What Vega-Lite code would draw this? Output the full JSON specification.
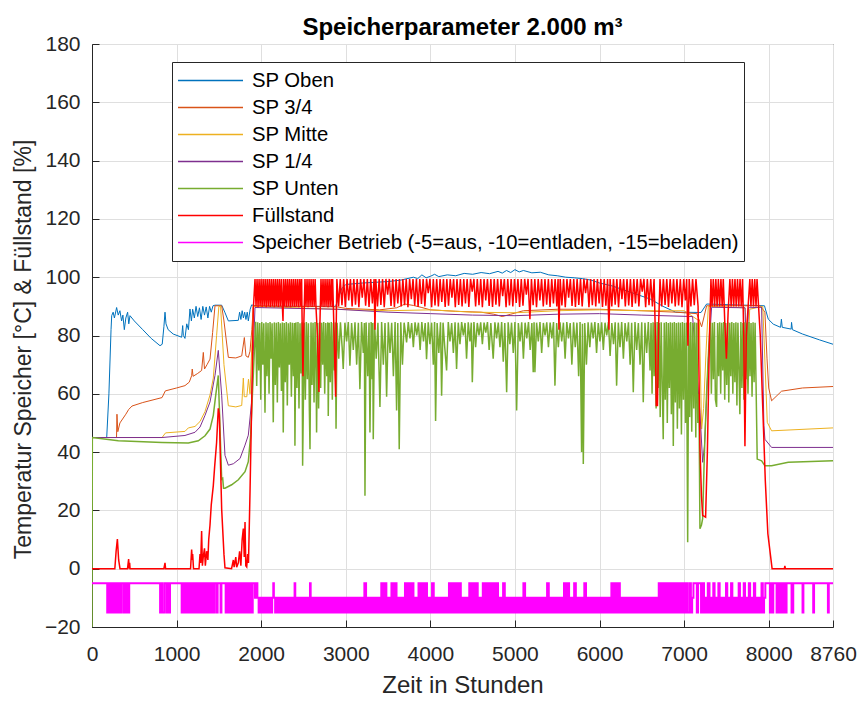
{
"$schema": "https://vega.github.io/schema/vega-lite/v6.json",
"width": 741, "height": 583,
"autosize": {"type": "none"},
"padding": {"left": 92, "top": 44, "right": 25, "bottom": 75},
"background": "white",
"title": {"text": "Speicherparameter 2.000 m³", "fontSize": 24, "fontWeight": "bold", "font": "Liberation Sans", "color": "#000000", "anchor": "middle", "baseline": "bottom", "offset": 4, "dy": 35},
"datasets": {
"o": [{"t":0,"v":45},{"t":174,"v":45},{"t":200,"v":60},{"t":225,"v":82},{"t":233,"v":86.8},{"t":250,"v":88},{"t":265,"v":86},{"t":291,"v":89.6},{"t":310,"v":87},{"t":330,"v":88.5},{"t":350,"v":85},{"t":365,"v":87},{"t":382,"v":82},{"t":400,"v":86},{"t":421,"v":88},{"t":435,"v":84},{"t":449,"v":86.8},{"t":500,"v":85},{"t":600,"v":82},{"t":700,"v":79},{"t":804,"v":76.5},{"t":830,"v":77},{"t":850,"v":83},{"t":863,"v":88},{"t":875,"v":84},{"t":900,"v":82},{"t":960,"v":80.5},{"t":1060,"v":79.4},{"t":1072,"v":83.4},{"t":1080,"v":80},{"t":1099,"v":79},{"t":1120,"v":84},{"t":1140,"v":82},{"t":1158,"v":89.1},{"t":1175,"v":85},{"t":1190,"v":89},{"t":1210,"v":86},{"t":1230,"v":90},{"t":1250,"v":86.5},{"t":1270,"v":89.5},{"t":1290,"v":85.5},{"t":1310,"v":90},{"t":1330,"v":87},{"t":1350,"v":89.8},{"t":1370,"v":86},{"t":1390,"v":90},{"t":1410,"v":88},{"t":1430,"v":90.2},{"t":1454,"v":90.4},{"t":1533,"v":90.4},{"t":1570,"v":88},{"t":1612,"v":85},{"t":1730,"v":85.2},{"t":1745,"v":88},{"t":1760,"v":85.5},{"t":1775,"v":88.5},{"t":1790,"v":86},{"t":1805,"v":88},{"t":1820,"v":85.5},{"t":1835,"v":88},{"t":1848,"v":85},{"t":1870,"v":89},{"t":1887,"v":90.5},{"t":1950,"v":90},{"t":2880,"v":90},{"t":2950,"v":96},{"t":3000,"v":97.5},{"t":3200,"v":98},{"t":3500,"v":98.5},{"t":3650,"v":99},{"t":3800,"v":100},{"t":3850,"v":99.5},{"t":3900,"v":100.8},{"t":3950,"v":99.8},{"t":4000,"v":100.3},{"t":4050,"v":101},{"t":4100,"v":100.2},{"t":4200,"v":100.8},{"t":4300,"v":100.5},{"t":4400,"v":101.3},{"t":4500,"v":101},{"t":4600,"v":101.6},{"t":4700,"v":101.2},{"t":4800,"v":102},{"t":4850,"v":101.4},{"t":4900,"v":102.3},{"t":4950,"v":101.6},{"t":5000,"v":102.6},{"t":5050,"v":101.8},{"t":5100,"v":102.3},{"t":5200,"v":101.5},{"t":5300,"v":101.7},{"t":5400,"v":100.8},{"t":5500,"v":100.5},{"t":5600,"v":100},{"t":5700,"v":99.8},{"t":5800,"v":99.5},{"t":5900,"v":99},{"t":6000,"v":98},{"t":6150,"v":97},{"t":6300,"v":95.5},{"t":6450,"v":94},{"t":6600,"v":92.5},{"t":6750,"v":90},{"t":6900,"v":88},{"t":7200,"v":87.9},{"t":7266,"v":90.8},{"t":7950,"v":90.2},{"t":7995,"v":85.6},{"t":8054,"v":83.9},{"t":8140,"v":82.8},{"t":8150,"v":85.6},{"t":8160,"v":82.8},{"t":8265,"v":82.2},{"t":8270,"v":84.5},{"t":8280,"v":82},{"t":8400,"v":80.5},{"t":8600,"v":78.5},{"t":8760,"v":77}],
"a": [{"t":0,"v":45},{"t":290,"v":45},{"t":295,"v":53},{"t":305,"v":47},{"t":330,"v":50},{"t":400,"v":53},{"t":433,"v":54.6},{"t":473,"v":55.8},{"t":600,"v":57},{"t":828,"v":58.7},{"t":867,"v":61},{"t":1000,"v":62},{"t":1099,"v":62.8},{"t":1150,"v":64},{"t":1178,"v":66.2},{"t":1185,"v":68.5},{"t":1195,"v":66},{"t":1250,"v":67},{"t":1296,"v":68},{"t":1316,"v":74.2},{"t":1330,"v":68.5},{"t":1360,"v":70},{"t":1395,"v":71.9},{"t":1426,"v":81},{"t":1454,"v":90.2},{"t":1533,"v":90.2},{"t":1560,"v":85},{"t":1612,"v":72.5},{"t":1700,"v":72.3},{"t":1770,"v":73},{"t":1801,"v":79.3},{"t":1820,"v":73},{"t":1848,"v":72.5},{"t":1868,"v":74.6},{"t":1890,"v":82},{"t":1907,"v":90.2},{"t":2900,"v":89.8},{"t":3000,"v":89.3},{"t":3400,"v":88.8},{"t":3600,"v":89.5},{"t":3700,"v":90.8},{"t":3800,"v":90.3},{"t":3900,"v":89.6},{"t":4000,"v":88.8},{"t":4300,"v":88.3},{"t":4600,"v":88},{"t":4750,"v":87.3},{"t":4850,"v":86.5},{"t":4950,"v":87.3},{"t":5100,"v":88.5},{"t":5500,"v":89},{"t":6000,"v":89},{"t":6500,"v":88.5},{"t":6900,"v":88},{"t":7150,"v":87.5},{"t":7207,"v":83},{"t":7240,"v":87},{"t":7266,"v":90.2},{"t":7900,"v":90.2},{"t":7955,"v":88},{"t":7980,"v":72},{"t":8000,"v":62},{"t":8034,"v":57.6},{"t":8152,"v":60.9},{"t":8400,"v":62},{"t":8760,"v":62.5}],
"m": [{"t":0,"v":45},{"t":828,"v":45},{"t":870,"v":46.6},{"t":1099,"v":47.1},{"t":1139,"v":48.3},{"t":1218,"v":48.8},{"t":1277,"v":50.5},{"t":1336,"v":53.9},{"t":1395,"v":59.6},{"t":1434,"v":65.4},{"t":1473,"v":80},{"t":1500,"v":90},{"t":1520,"v":90},{"t":1560,"v":70},{"t":1612,"v":55.9},{"t":1700,"v":55.5},{"t":1770,"v":56},{"t":1789,"v":65.4},{"t":1800,"v":59},{"t":1830,"v":59},{"t":1850,"v":65},{"t":1868,"v":60},{"t":1907,"v":90},{"t":2900,"v":89},{"t":3500,"v":88.5},{"t":4000,"v":88.8},{"t":4500,"v":88},{"t":5000,"v":87.8},{"t":5500,"v":88.5},{"t":6000,"v":88.8},{"t":6500,"v":88.5},{"t":7000,"v":88.5},{"t":7180,"v":85},{"t":7207,"v":47.9},{"t":7230,"v":55},{"t":7260,"v":75},{"t":7286,"v":90},{"t":7720,"v":89.5},{"t":7740,"v":80},{"t":7758,"v":75},{"t":7775,"v":89},{"t":7930,"v":90},{"t":7970,"v":60},{"t":7983,"v":50.2},{"t":8034,"v":47.3},{"t":8760,"v":48.3}],
"q": [{"t":0,"v":45},{"t":828,"v":45},{"t":1099,"v":45.7},{"t":1218,"v":46.8},{"t":1277,"v":48.6},{"t":1336,"v":52.6},{"t":1395,"v":57.2},{"t":1454,"v":66.3},{"t":1493,"v":74.9},{"t":1533,"v":59.5},{"t":1572,"v":38.9},{"t":1612,"v":35.5},{"t":1671,"v":36},{"t":1750,"v":37.8},{"t":1809,"v":42.4},{"t":1848,"v":45.8},{"t":1887,"v":57.2},{"t":1907,"v":74.4},{"t":1927,"v":89.6},{"t":2900,"v":89},{"t":3500,"v":88},{"t":4000,"v":87.5},{"t":4500,"v":87},{"t":5000,"v":86.8},{"t":5500,"v":87.3},{"t":6000,"v":87.5},{"t":6500,"v":87},{"t":7100,"v":86.5},{"t":7187,"v":53.6},{"t":7219,"v":36.5},{"t":7240,"v":42},{"t":7286,"v":72},{"t":7325,"v":89.7},{"t":7720,"v":89.5},{"t":7738,"v":69.6},{"t":7760,"v":89.5},{"t":7916,"v":89.7},{"t":7943,"v":49.1},{"t":7955,"v":44.4},{"t":8034,"v":41.6},{"t":8760,"v":41.6}],
"u": [{"t":0,"v":-20},{"t":4,"v":45},{"t":311,"v":43.9},{"t":828,"v":43.3},{"t":1139,"v":43.1},{"t":1257,"v":43.9},{"t":1336,"v":45.6},{"t":1395,"v":47.9},{"t":1434,"v":52.6},{"t":1462,"v":59.4},{"t":1493,"v":66.3},{"t":1533,"v":30.7},{"t":1545,"v":31},{"t":1555,"v":27.6},{"t":1572,"v":27.6},{"t":1651,"v":28.8},{"t":1730,"v":30.5},{"t":1809,"v":33.3},{"t":1848,"v":36.7},{"t":1876,"v":45.9},{"t":1896,"v":59.5},{"t":1919,"v":74.4},
{"t":1935,"v":84.7},{"t":1947,"v":62.7},{"t":1959,"v":84.5},{"t":1971,"v":68},{"t":1983,"v":84.3},{"t":1995,"v":58},{"t":2007,"v":84.6},{"t":2019,"v":70},{"t":2031,"v":84.2},{"t":2045,"v":53.5},{"t":2057,"v":84.5},{"t":2069,"v":66},{"t":2081,"v":84.3},{"t":2093,"v":60},{"t":2105,"v":84.6},{"t":2117,"v":72},{"t":2129,"v":84.2},{"t":2143,"v":50.2},{"t":2155,"v":84.5},{"t":2167,"v":63},{"t":2179,"v":84.4},{"t":2191,"v":57},{"t":2203,"v":84.6},{"t":2215,"v":69},{"t":2227,"v":84.2},{"t":2239,"v":61},{"t":2251,"v":84.5},{"t":2261,"v":46.7},{"t":2273,"v":84.3},{"t":2285,"v":64},{"t":2297,"v":84.6},{"t":2309,"v":56},{"t":2321,"v":84.2},{"t":2333,"v":70},{"t":2345,"v":84.5},{"t":2357,"v":59},{"t":2369,"v":84.4},{"t":2381,"v":66},{"t":2393,"v":84.3},{"t":2399,"v":42.2},{"t":2411,"v":84.5},{"t":2423,"v":62},{"t":2435,"v":84.6},{"t":2447,"v":55},{"t":2459,"v":84.2},{"t":2471,"v":67},{"t":2483,"v":84.5},{"t":2490,"v":35.3},{"t":2500,"v":60},{"t":2510,"v":84.4},{"t":2522,"v":58},{"t":2534,"v":84.6},{"t":2546,"v":65},{"t":2558,"v":84.2},{"t":2570,"v":54},{"t":2577,"v":41},{"t":2589,"v":84.5},{"t":2601,"v":63},{"t":2613,"v":84.4},{"t":2625,"v":57},{"t":2637,"v":84.6},{"t":2649,"v":68},{"t":2655,"v":46.7},{"t":2667,"v":84.3},{"t":2679,"v":55},{"t":2691,"v":84.5},{"t":2703,"v":62},{"t":2715,"v":84.4},{"t":2727,"v":70},{"t":2739,"v":84.6},{"t":2751,"v":60},{"t":2763,"v":84.3},{"t":2775,"v":66},{"t":2787,"v":84.5},{"t":2793,"v":52.4},{"t":2805,"v":84.4},{"t":2817,"v":64},{"t":2829,"v":84.6},{"t":2841,"v":58},{"t":2853,"v":84.3},{"t":2865,"v":68},{"t":2877,"v":84.5},{"t":2885,"v":48},{"t":2897,"v":84.4},
{"t":2917,"v":72},{"t":2937,"v":84.5},{"t":2957,"v":76},{"t":2970,"v":68.5},{"t":2990,"v":84.4},{"t":3010,"v":78},{"t":3030,"v":84.6},{"t":3049,"v":69.6},{"t":3069,"v":84.3},{"t":3089,"v":75},{"t":3109,"v":84.5},{"t":3129,"v":70},{"t":3149,"v":84.4},{"t":3167,"v":61.6},{"t":3187,"v":84.6},{"t":3207,"v":74},{"t":3220,"v":84.3},{"t":3227,"v":25},{"t":3240,"v":84.5},{"t":3260,"v":66},{"t":3275,"v":84.4},{"t":3286,"v":46.7},{"t":3300,"v":84.6},{"t":3312,"v":65},{"t":3318,"v":84.3},{"t":3325,"v":44.4},{"t":3340,"v":84.5},{"t":3360,"v":72},{"t":3380,"v":84.4},{"t":3404,"v":55.5},{"t":3424,"v":84.6},{"t":3444,"v":70},{"t":3464,"v":84.3},{"t":3483,"v":59},{"t":3503,"v":84.5},{"t":3523,"v":74},{"t":3543,"v":84.4},{"t":3563,"v":66},{"t":3583,"v":84.6},{"t":3601,"v":54.3},{"t":3615,"v":84.3},{"t":3632,"v":41},{"t":3650,"v":84.5},{"t":3670,"v":70},{"t":3690,"v":84.4},{"t":3719,"v":77.6},{"t":3739,"v":84.6},{"t":3759,"v":79},{"t":3779,"v":84.3},{"t":3799,"v":76},{"t":3819,"v":84.5},{"t":3839,"v":80},{"t":3859,"v":84.4},{"t":3879,"v":75},{"t":3899,"v":84.6},{"t":3919,"v":78},{"t":3939,"v":84.3},{"t":3955,"v":71.9},{"t":3975,"v":84.5},{"t":3995,"v":77},{"t":4015,"v":84.4},{"t":4035,"v":70},{"t":4050,"v":84.6},{"t":4062,"v":50.7},{"t":4080,"v":84.3},{"t":4100,"v":74},{"t":4120,"v":84.5},{"t":4133,"v":59.3},{"t":4150,"v":84.4},{"t":4170,"v":76},{"t":4192,"v":68},{"t":4212,"v":84.6},{"t":4232,"v":78},{"t":4252,"v":84.3},{"t":4272,"v":74},{"t":4292,"v":84.5},{"t":4310,"v":68.5},{"t":4330,"v":84.4},{"t":4350,"v":77},{"t":4370,"v":84.6},{"t":4390,"v":80},{"t":4410,"v":84.3},{"t":4428,"v":72},{"t":4448,"v":84.5},{"t":4468,"v":78},{"t":4484,"v":84.4},{"t":4496,"v":64},{"t":4515,"v":84.6},{"t":4535,"v":76},{"t":4555,"v":84.3},{"t":4575,"v":80},{"t":4595,"v":84.5},{"t":4615,"v":77},{"t":4635,"v":84.4},{"t":4655,"v":81},{"t":4675,"v":84.6},{"t":4695,"v":75},{"t":4715,"v":84.3},{"t":4743,"v":72},{"t":4763,"v":84.5},{"t":4783,"v":79},{"t":4803,"v":84.4},{"t":4823,"v":76},{"t":4843,"v":84.6},{"t":4862,"v":71},{"t":4880,"v":84.3},{"t":4902,"v":60.5},{"t":4920,"v":84.5},{"t":4940,"v":77},{"t":4960,"v":84.4},{"t":4980,"v":74},{"t":5000,"v":84.6},{"t":5020,"v":54.3},{"t":5040,"v":84.3},{"t":5060,"v":78},{"t":5080,"v":84.5},{"t":5100,"v":72},{"t":5120,"v":84.4},{"t":5140,"v":79},{"t":5160,"v":84.6},{"t":5180,"v":75},{"t":5200,"v":84.3},{"t":5216,"v":67.4},{"t":5226,"v":84.5},{"t":5236,"v":67.4},{"t":5256,"v":84.4},{"t":5276,"v":78},{"t":5296,"v":84.6},{"t":5316,"v":74},{"t":5336,"v":84.3},{"t":5356,"v":80},{"t":5376,"v":84.5},{"t":5396,"v":76},{"t":5416,"v":84.4},{"t":5436,"v":79},{"t":5456,"v":84.6},{"t":5473,"v":62.8},{"t":5493,"v":84.3},{"t":5513,"v":76},{"t":5533,"v":84.5},{"t":5553,"v":78},{"t":5573,"v":84.4},{"t":5593,"v":72},{"t":5613,"v":84.6},{"t":5633,"v":79},{"t":5653,"v":84.3},{"t":5673,"v":70},{"t":5693,"v":84.5},{"t":5713,"v":76},{"t":5733,"v":84.4},{"t":5753,"v":66},{"t":5770,"v":84.6},{"t":5788,"v":40},{"t":5798,"v":84},{"t":5808,"v":35.9},{"t":5825,"v":84.3},{"t":5845,"v":70},{"t":5865,"v":84.5},{"t":5885,"v":76},{"t":5905,"v":84.4},{"t":5925,"v":79},{"t":5945,"v":84.6},{"t":5965,"v":74},{"t":5985,"v":84.3},{"t":6005,"v":78},{"t":6025,"v":84.5},{"t":6045,"v":75},{"t":6065,"v":84.4},{"t":6085,"v":80},{"t":6105,"v":84.6},{"t":6125,"v":73},{"t":6145,"v":84.3},{"t":6165,"v":77},{"t":6185,"v":84.5},{"t":6202,"v":62.8},{"t":6222,"v":84.4},{"t":6242,"v":76},{"t":6262,"v":84.6},{"t":6282,"v":72},{"t":6302,"v":84.3},{"t":6322,"v":78},{"t":6342,"v":84.5},{"t":6362,"v":70},{"t":6380,"v":84.4},{"t":6399,"v":60.5},{"t":6419,"v":84.6},{"t":6439,"v":75},{"t":6459,"v":84.3},{"t":6479,"v":70},{"t":6499,"v":84.5},{"t":6517,"v":57.1},{"t":6537,"v":84.4},{"t":6557,"v":74},{"t":6577,"v":84.6},{"t":6597,"v":68},
{"t":6609,"v":84.3},{"t":6621,"v":60},{"t":6633,"v":84.5},{"t":6645,"v":66},{"t":6657,"v":84.4},{"t":6669,"v":55},{"t":6681,"v":84.6},{"t":6693,"v":62},{"t":6705,"v":84.3},{"t":6717,"v":52},{"t":6729,"v":84.5},{"t":6741,"v":64},{"t":6753,"v":44.4},{"t":6765,"v":84.4},{"t":6777,"v":58},{"t":6789,"v":84.6},{"t":6801,"v":50},{"t":6813,"v":84.3},{"t":6825,"v":62},{"t":6837,"v":84.5},{"t":6849,"v":53},{"t":6861,"v":84.4},{"t":6872,"v":42.1},{"t":6884,"v":84.6},{"t":6896,"v":57},{"t":6908,"v":84.3},{"t":6920,"v":48},{"t":6932,"v":84.5},{"t":6944,"v":55},{"t":6956,"v":84.4},{"t":6968,"v":46},{"t":6980,"v":84.6},{"t":6992,"v":58},{"t":7004,"v":84.3},{"t":7016,"v":50},{"t":7028,"v":84.5},{"t":7042,"v":9.1},{"t":7054,"v":84.4},{"t":7066,"v":52},{"t":7078,"v":84.6},{"t":7090,"v":47},{"t":7102,"v":84.3},{"t":7114,"v":55},{"t":7126,"v":84.5},{"t":7138,"v":45},{"t":7150,"v":84.4},{"t":7162,"v":50},{"t":7175,"v":60},{"t":7187,"v":13.7},{"t":7205,"v":15},{"t":7219,"v":17.2},{"t":7240,"v":40},{"t":7266,"v":60.5},{"t":7290,"v":75},{"t":7310,"v":84.5},
{"t":7322,"v":60},{"t":7334,"v":84.4},{"t":7346,"v":65},{"t":7358,"v":84.6},{"t":7370,"v":58},{"t":7384,"v":55.5},{"t":7396,"v":84.3},{"t":7408,"v":66},{"t":7420,"v":84.5},{"t":7432,"v":60},{"t":7444,"v":84.4},{"t":7456,"v":68},{"t":7468,"v":84.6},{"t":7480,"v":58},{"t":7492,"v":84.3},{"t":7504,"v":63},{"t":7516,"v":84.5},{"t":7528,"v":57},{"t":7540,"v":84.4},{"t":7552,"v":66},{"t":7564,"v":84.6},{"t":7576,"v":60},{"t":7588,"v":84.3},{"t":7600,"v":64},{"t":7612,"v":84.5},{"t":7624,"v":56},{"t":7636,"v":84.4},{"t":7648,"v":68},{"t":7659,"v":53},{"t":7671,"v":84.6},{"t":7683,"v":62},{"t":7695,"v":84.3},{"t":7707,"v":58},{"t":7719,"v":84.5},{"t":7731,"v":65},{"t":7743,"v":84.4},{"t":7755,"v":60},{"t":7767,"v":84.6},{"t":7779,"v":66},{"t":7791,"v":84.3},{"t":7803,"v":59},{"t":7815,"v":84.5},{"t":7827,"v":64},{"t":7839,"v":84.4},{"t":7851,"v":62},{"t":7864,"v":37.6},{"t":7916,"v":37},{"t":7955,"v":35.3},{"t":8034,"v":35.3},{"t":8231,"v":36.5},{"t":8500,"v":36.8},{"t":8760,"v":37}],
"f": [{"t":0,"v":0},{"t":270,"v":0},{"t":285,"v":6},{"t":300,"v":10.2},{"t":315,"v":3},{"t":331,"v":0},{"t":420,"v":0},{"t":433,"v":3.3},{"t":440,"v":0},{"t":445,"v":2},{"t":450,"v":0},{"t":850,"v":0},{"t":863,"v":2},{"t":870,"v":0},{"t":1165,"v":0},{"t":1178,"v":6.6},{"t":1185,"v":3},{"t":1190,"v":5},{"t":1200,"v":0},{"t":1265,"v":0},{"t":1277,"v":5},{"t":1285,"v":2},{"t":1296,"v":12.9},{"t":1305,"v":1},{"t":1315,"v":4},{"t":1330,"v":7},{"t":1340,"v":1},{"t":1355,"v":6},{"t":1370,"v":3},{"t":1380,"v":10},{"t":1395,"v":15},{"t":1410,"v":22},{"t":1434,"v":28.5},{"t":1450,"v":35},{"t":1473,"v":43.3},{"t":1493,"v":55},{"t":1505,"v":53},{"t":1520,"v":35},{"t":1533,"v":20.4},{"t":1560,"v":5},{"t":1572,"v":0.3},{"t":1650,"v":0},{"t":1671,"v":3},{"t":1680,"v":0.5},{"t":1700,"v":4},{"t":1710,"v":0.5},{"t":1730,"v":2},{"t":1745,"v":6},{"t":1760,"v":1},{"t":1775,"v":10},{"t":1789,"v":13.8},{"t":1800,"v":4},{"t":1809,"v":16},{"t":1818,"v":1},{"t":1829,"v":0.6},{"t":1840,"v":5},{"t":1850,"v":2},{"t":1868,"v":26.3},{"t":1890,"v":60},{"t":1907,"v":89},{"t":1927,"v":99.4},
{"t":1939,"v":90},{"t":1951,"v":99.4},{"t":1963,"v":89.7},{"t":1975,"v":99.4},{"t":1987,"v":90},{"t":1999,"v":99.4},{"t":2011,"v":89.8},{"t":2023,"v":99.4},{"t":2035,"v":90},{"t":2047,"v":99.4},{"t":2059,"v":89.7},{"t":2071,"v":99.4},{"t":2083,"v":90},{"t":2095,"v":99.4},{"t":2107,"v":89.8},{"t":2119,"v":99.4},{"t":2131,"v":90},{"t":2143,"v":99.4},{"t":2155,"v":89.7},{"t":2167,"v":99.4},{"t":2179,"v":90},{"t":2191,"v":99.4},{"t":2203,"v":89.8},{"t":2215,"v":99.4},{"t":2227,"v":90},{"t":2239,"v":99.4},{"t":2251,"v":89.7},{"t":2258,"v":85},{"t":2265,"v":99.4},{"t":2277,"v":90},{"t":2289,"v":99.4},{"t":2301,"v":89.8},{"t":2313,"v":99.4},{"t":2325,"v":90},{"t":2337,"v":99.4},{"t":2349,"v":89.7},{"t":2361,"v":99.4},{"t":2373,"v":90},{"t":2385,"v":99.4},{"t":2397,"v":89.8},{"t":2409,"v":99.4},{"t":2421,"v":90},{"t":2433,"v":99.4},{"t":2445,"v":89.7},{"t":2457,"v":99.4},{"t":2469,"v":90},{"t":2478,"v":99.4},{"t":2486,"v":80},{"t":2494,"v":66},{"t":2505,"v":85},{"t":2518,"v":99.4},{"t":2530,"v":90},{"t":2542,"v":99.4},{"t":2554,"v":89.7},{"t":2566,"v":99.4},{"t":2578,"v":90},{"t":2590,"v":99.4},{"t":2602,"v":89.8},{"t":2614,"v":99.4},{"t":2626,"v":90},{"t":2638,"v":99.4},{"t":2648,"v":89.7},{"t":2665,"v":80},{"t":2683,"v":60.6},{"t":2695,"v":85},{"t":2707,"v":99.4},{"t":2719,"v":90},{"t":2731,"v":99.4},{"t":2743,"v":89.8},{"t":2755,"v":99.4},{"t":2767,"v":90},{"t":2779,"v":99.4},{"t":2791,"v":89.7},{"t":2803,"v":99.4},{"t":2815,"v":90},{"t":2827,"v":99.4},{"t":2839,"v":89.8},{"t":2845,"v":99.4},{"t":2862,"v":80},{"t":2880,"v":59},{"t":2888,"v":85},{"t":2895,"v":99.4},
{"t":2915,"v":90},{"t":2935,"v":99.4},{"t":2955,"v":90.4},{"t":2975,"v":99.4},{"t":2995,"v":89.8},{"t":3015,"v":99.4},{"t":3035,"v":92},{"t":3055,"v":99.4},{"t":3075,"v":90},{"t":3095,"v":99.4},{"t":3115,"v":90.6},{"t":3135,"v":99.4},{"t":3155,"v":89.7},{"t":3175,"v":99.4},{"t":3195,"v":93},{"t":3215,"v":99.4},{"t":3235,"v":90.2},{"t":3255,"v":99.4},{"t":3275,"v":89.8},{"t":3295,"v":99.4},{"t":3315,"v":91},{"t":3335,"v":99.4},{"t":3345,"v":82},{"t":3355,"v":99.4},{"t":3375,"v":90},{"t":3395,"v":99.4},{"t":3415,"v":90.5},{"t":3435,"v":99.4},{"t":3455,"v":89.7},{"t":3475,"v":99.4},{"t":3495,"v":94},{"t":3515,"v":99.4},{"t":3535,"v":90.1},{"t":3555,"v":99.4},{"t":3575,"v":89.8},{"t":3595,"v":99.4},{"t":3615,"v":91},{"t":3635,"v":99.4},{"t":3655,"v":90},{"t":3675,"v":99.4},{"t":3695,"v":90.4},{"t":3715,"v":99.4},{"t":3735,"v":89.7},{"t":3755,"v":99.4},{"t":3775,"v":92.5},{"t":3795,"v":99.4},{"t":3815,"v":90.2},{"t":3835,"v":99.4},{"t":3855,"v":89.8},{"t":3875,"v":99.4},{"t":3895,"v":90.8},{"t":3915,"v":99.4},{"t":3935,"v":90},{"t":3955,"v":99.4},{"t":3975,"v":94.5},{"t":3995,"v":99.4},{"t":4015,"v":89.7},{"t":4035,"v":99.4},{"t":4055,"v":90.3},{"t":4075,"v":99.4},{"t":4095,"v":90},{"t":4115,"v":99.4},{"t":4135,"v":91.5},{"t":4155,"v":99.4},{"t":4175,"v":89.8},{"t":4195,"v":99.4},{"t":4215,"v":90.2},{"t":4235,"v":99.4},{"t":4255,"v":93},{"t":4275,"v":99.4},{"t":4295,"v":89.7},{"t":4315,"v":99.4},{"t":4335,"v":90.5},{"t":4355,"v":99.4},{"t":4375,"v":90},{"t":4395,"v":99.4},{"t":4415,"v":91},{"t":4435,"v":99.4},{"t":4455,"v":89.8},{"t":4475,"v":99.4},{"t":4495,"v":95},{"t":4515,"v":99.4},{"t":4535,"v":90},{"t":4555,"v":99.4},{"t":4575,"v":90.4},{"t":4595,"v":99.4},{"t":4615,"v":89.7},{"t":4635,"v":99.4},{"t":4655,"v":92},{"t":4675,"v":99.4},{"t":4695,"v":90.1},{"t":4715,"v":99.4},{"t":4735,"v":89.8},{"t":4755,"v":99.4},{"t":4775,"v":90.6},{"t":4795,"v":99.4},{"t":4815,"v":90},{"t":4835,"v":99.4},{"t":4855,"v":93.5},{"t":4875,"v":99.4},{"t":4895,"v":89.7},{"t":4915,"v":99.4},{"t":4935,"v":90.3},{"t":4955,"v":99.4},{"t":4975,"v":90},{"t":4995,"v":99.4},{"t":5015,"v":91.2},{"t":5035,"v":99.4},{"t":5055,"v":89.8},{"t":5075,"v":99.4},{"t":5095,"v":90.2},{"t":5115,"v":99.4},{"t":5135,"v":94},{"t":5155,"v":99.4},{"t":5177,"v":85.6},{"t":5195,"v":99.4},{"t":5215,"v":90.4},{"t":5235,"v":99.4},{"t":5255,"v":89.7},{"t":5275,"v":99.4},{"t":5295,"v":92},{"t":5315,"v":99.4},{"t":5335,"v":90},{"t":5355,"v":99.4},{"t":5375,"v":90.6},{"t":5395,"v":99.4},{"t":5415,"v":89.8},{"t":5435,"v":99.4},{"t":5455,"v":91},{"t":5475,"v":99.4},{"t":5495,"v":90},{"t":5510,"v":99.4},{"t":5520,"v":82},{"t":5535,"v":99.4},{"t":5555,"v":90.3},{"t":5575,"v":99.4},{"t":5595,"v":89.7},{"t":5615,"v":99.4},{"t":5635,"v":93},{"t":5655,"v":99.4},{"t":5675,"v":90.1},{"t":5695,"v":99.4},{"t":5715,"v":89.8},{"t":5735,"v":99.4},{"t":5755,"v":90.5},{"t":5775,"v":99.4},{"t":5795,"v":90},{"t":5815,"v":99.4},{"t":5835,"v":94.5},{"t":5855,"v":99.4},{"t":5875,"v":89.7},{"t":5895,"v":99.4},{"t":5915,"v":90.4},{"t":5935,"v":99.4},{"t":5955,"v":90},{"t":5975,"v":99.4},{"t":5995,"v":91},{"t":6015,"v":99.4},{"t":6035,"v":89.8},{"t":6055,"v":99.4},{"t":6075,"v":90.2},{"t":6095,"v":99.4},{"t":6111,"v":82},{"t":6125,"v":99.4},{"t":6145,"v":90},{"t":6165,"v":99.4},{"t":6185,"v":90.6},{"t":6205,"v":99.4},{"t":6225,"v":89.7},{"t":6245,"v":99.4},{"t":6265,"v":92.5},{"t":6285,"v":99.4},{"t":6305,"v":90},{"t":6325,"v":99.4},{"t":6345,"v":90.3},{"t":6365,"v":99.4},{"t":6385,"v":89.8},{"t":6405,"v":99.4},{"t":6425,"v":91},{"t":6445,"v":99.4},{"t":6465,"v":90},{"t":6485,"v":99.4},{"t":6505,"v":95},{"t":6525,"v":99.4},{"t":6545,"v":89.7},{"t":6565,"v":99.4},{"t":6585,"v":90.4},{"t":6605,"v":99.4},{"t":6625,"v":90},{"t":6645,"v":99.4},{"t":6660,"v":80},{"t":6670,"v":56},{"t":6685,"v":56},{"t":6700,"v":85},{"t":6715,"v":99.4},{"t":6735,"v":90},{"t":6755,"v":99.4},{"t":6775,"v":90.5},{"t":6795,"v":99.4},{"t":6815,"v":89.8},{"t":6835,"v":99.4},{"t":6855,"v":91},{"t":6875,"v":99.4},{"t":6895,"v":90},{"t":6915,"v":99.4},{"t":6935,"v":90.3},{"t":6955,"v":99.4},{"t":6975,"v":89.7},{"t":6995,"v":99.4},{"t":7015,"v":92},{"t":7030,"v":99.4},{"t":7045,"v":76.5},{"t":7060,"v":99.4},{"t":7080,"v":90},{"t":7100,"v":99.4},{"t":7120,"v":90.4},{"t":7140,"v":99.4},{"t":7165,"v":90},{"t":7187,"v":42},{"t":7205,"v":25},{"t":7219,"v":18.3},{"t":7254,"v":17.7},{"t":7275,"v":40},{"t":7300,"v":80},{"t":7317,"v":99.4},
{"t":7330,"v":90},{"t":7345,"v":99.4},{"t":7360,"v":90},{"t":7375,"v":99.4},{"t":7390,"v":90},{"t":7405,"v":99.4},{"t":7420,"v":90},{"t":7435,"v":99.4},{"t":7450,"v":90},{"t":7463,"v":99.4},{"t":7480,"v":85},{"t":7500,"v":72},{"t":7520,"v":88},{"t":7541,"v":99.4},{"t":7556,"v":90},{"t":7571,"v":99.4},{"t":7586,"v":90},{"t":7601,"v":99.4},{"t":7616,"v":90},{"t":7631,"v":99.4},{"t":7646,"v":90},{"t":7661,"v":99.4},{"t":7676,"v":90},{"t":7691,"v":99.4},{"t":7705,"v":80},{"t":7719,"v":42},{"t":7735,"v":80},{"t":7777,"v":99.4},{"t":7790,"v":90},{"t":7805,"v":99.4},{"t":7820,"v":90},{"t":7835,"v":99.4},{"t":7850,"v":90},{"t":7862,"v":99.4},{"t":7880,"v":90},{"t":7900,"v":80},{"t":7930,"v":55},{"t":7960,"v":30},{"t":7990,"v":12},{"t":8040,"v":0},{"t":8185,"v":0},{"t":8191,"v":1},{"t":8197,"v":0},{"t":8760,"v":0}],
"b": [{"t":0,"v":-5},{"t":180,"v":-15},{"t":195,"v":-5},{"t":205,"v":-15},{"t":215,"v":-5},{"t":230,"v":-15},{"t":245,"v":-5},{"t":262,"v":-15},{"t":285,"v":-5},{"t":300,"v":-15},{"t":312,"v":-5},{"t":330,"v":-15},{"t":345,"v":-5},{"t":370,"v":-15},{"t":382,"v":-5},{"t":405,"v":-15},{"t":415,"v":-5},{"t":428,"v":-15},{"t":440,"v":-5},{"t":805,"v":-15},{"t":818,"v":-5},{"t":835,"v":-15},{"t":860,"v":-5},{"t":885,"v":-15},{"t":900,"v":-5},{"t":910,"v":-15},{"t":922,"v":-5},{"t":1060,"v":-15},{"t":1068,"v":-5},{"t":1085,"v":-15},{"t":1092,"v":-5},{"t":1115,"v":-15},{"t":1130,"v":-5},{"t":1140,"v":-15},{"t":1150,"v":-5},{"t":1165,"v":-15},{"t":1175,"v":-5},{"t":1190,"v":-15},{"t":1200,"v":-5},{"t":1220,"v":-15},{"t":1230,"v":-5},{"t":1245,"v":-15},{"t":1262,"v":-5},{"t":1275,"v":-15},{"t":1285,"v":-5},{"t":1300,"v":-15},{"t":1315,"v":-5},{"t":1325,"v":-15},{"t":1340,"v":-5},{"t":1350,"v":-15},{"t":1362,"v":-5},{"t":1375,"v":-15},{"t":1395,"v":-5},{"t":1410,"v":-15},{"t":1418,"v":-5},{"t":1440,"v":-15},{"t":1450,"v":-5},{"t":1475,"v":-15},{"t":1485,"v":-5},{"t":1520,"v":-15},{"t":1530,"v":-5},{"t":1580,"v":-15},{"t":1590,"v":-5},{"t":1605,"v":-15},{"t":1620,"v":-5},{"t":1630,"v":-15},{"t":1645,"v":-5},{"t":1660,"v":-15},{"t":1668,"v":-5},{"t":1680,"v":-15},{"t":1695,"v":-5},{"t":1705,"v":-15},{"t":1715,"v":-5},{"t":1730,"v":-15},{"t":1745,"v":-5},{"t":1760,"v":-15},{"t":1770,"v":-5},{"t":1790,"v":-15},{"t":1800,"v":-5},{"t":1815,"v":-15},{"t":1825,"v":-5},{"t":1840,"v":-15},{"t":1850,"v":-5},{"t":1862,"v":-15},{"t":1875,"v":-5},{"t":1890,"v":-15},{"t":1900,"v":-5},{"t":1927,"v":-10},{"t":1946,"v":-5},{"t":1955,"v":-10},{"t":1970,"v":-15},{"t":1990,"v":-10},{"t":2005,"v":-15},{"t":2025,"v":-10},{"t":2040,"v":-15},{"t":2060,"v":-10},{"t":2075,"v":-15},{"t":2095,"v":-10},{"t":2110,"v":-15},{"t":2130,"v":-10},{"t":2143,"v":-5},{"t":2150,"v":-10},{"t":2165,"v":-15},{"t":2185,"v":-10},{"t":2200,"v":-15},{"t":2220,"v":-10},{"t":2235,"v":-15},{"t":2255,"v":-10},{"t":2270,"v":-15},{"t":2290,"v":-10},{"t":2305,"v":-15},{"t":2325,"v":-10},{"t":2340,"v":-15},{"t":2360,"v":-10},{"t":2375,"v":-15},{"t":2395,"v":-5},{"t":2403,"v":-10},{"t":2415,"v":-15},{"t":2435,"v":-10},{"t":2450,"v":-15},{"t":2470,"v":-10},{"t":2485,"v":-15},{"t":2505,"v":-10},{"t":2520,"v":-15},{"t":2540,"v":-10},{"t":2555,"v":-15},{"t":2577,"v":-5},{"t":2585,"v":-10},{"t":2600,"v":-15},{"t":2620,"v":-10},{"t":2635,"v":-15},{"t":2655,"v":-10},{"t":2670,"v":-15},{"t":2690,"v":-10},{"t":2705,"v":-15},{"t":2725,"v":-10},{"t":2740,"v":-15},{"t":2760,"v":-10},{"t":2775,"v":-15},{"t":2795,"v":-10},{"t":2810,"v":-15},{"t":2830,"v":-10},{"t":2845,"v":-15},{"t":2865,"v":-10},{"t":2880,"v":-15},{"t":2900,"v":-10},
{"t":2920,"v":-15},{"t":2940,"v":-10},{"t":2960,"v":-15},{"t":2980,"v":-10},{"t":3000,"v":-15},{"t":3020,"v":-10},{"t":3040,"v":-15},{"t":3060,"v":-10},{"t":3080,"v":-15},{"t":3100,"v":-10},{"t":3120,"v":-15},{"t":3140,"v":-10},{"t":3160,"v":-15},{"t":3180,"v":-10},{"t":3200,"v":-15},{"t":3220,"v":-5},{"t":3240,"v":-15},{"t":3260,"v":-10},{"t":3280,"v":-15},{"t":3300,"v":-10},{"t":3320,"v":-15},{"t":3340,"v":-10},{"t":3360,"v":-15},{"t":3380,"v":-10},{"t":3400,"v":-15},{"t":3420,"v":-5},{"t":3440,"v":-15},{"t":3460,"v":-5},{"t":3480,"v":-15},{"t":3500,"v":-10},{"t":3520,"v":-15},{"t":3540,"v":-5},{"t":3560,"v":-15},{"t":3580,"v":-5},{"t":3600,"v":-15},{"t":3620,"v":-10},{"t":3640,"v":-15},{"t":3660,"v":-10},{"t":3680,"v":-15},{"t":3700,"v":-5},{"t":3720,"v":-15},{"t":3740,"v":-5},{"t":3760,"v":-15},{"t":3780,"v":-5},{"t":3800,"v":-15},{"t":3820,"v":-10},{"t":3840,"v":-15},{"t":3860,"v":-5},{"t":3880,"v":-15},{"t":3900,"v":-5},{"t":3920,"v":-15},{"t":3940,"v":-5},{"t":3960,"v":-15},{"t":3980,"v":-10},{"t":4000,"v":-15},{"t":4020,"v":-5},{"t":4040,"v":-15},{"t":4060,"v":-10},{"t":4080,"v":-15},{"t":4100,"v":-10},{"t":4120,"v":-15},{"t":4140,"v":-10},{"t":4160,"v":-15},{"t":4180,"v":-10},{"t":4200,"v":-15},{"t":4220,"v":-5},{"t":4240,"v":-15},{"t":4260,"v":-5},{"t":4280,"v":-15},{"t":4300,"v":-5},{"t":4320,"v":-15},{"t":4340,"v":-5},{"t":4360,"v":-15},{"t":4380,"v":-10},{"t":4400,"v":-15},{"t":4420,"v":-10},{"t":4440,"v":-15},{"t":4460,"v":-5},{"t":4480,"v":-15},{"t":4500,"v":-5},{"t":4520,"v":-15},{"t":4540,"v":-5},{"t":4560,"v":-15},{"t":4580,"v":-10},{"t":4600,"v":-15},{"t":4620,"v":-5},{"t":4640,"v":-15},{"t":4660,"v":-5},{"t":4680,"v":-15},{"t":4700,"v":-5},{"t":4720,"v":-15},{"t":4740,"v":-5},{"t":4760,"v":-15},{"t":4780,"v":-5},{"t":4800,"v":-15},{"t":4820,"v":-10},{"t":4840,"v":-15},{"t":4860,"v":-5},{"t":4880,"v":-15},{"t":4900,"v":-10},{"t":4920,"v":-15},{"t":4940,"v":-10},{"t":4960,"v":-15},{"t":4980,"v":-10},{"t":5000,"v":-15},{"t":5020,"v":-10},{"t":5040,"v":-15},{"t":5060,"v":-10},{"t":5080,"v":-15},{"t":5100,"v":-5},{"t":5120,"v":-15},{"t":5140,"v":-10},{"t":5160,"v":-15},{"t":5180,"v":-10},{"t":5200,"v":-15},{"t":5220,"v":-10},{"t":5240,"v":-15},{"t":5260,"v":-10},{"t":5280,"v":-15},{"t":5300,"v":-10},{"t":5320,"v":-15},{"t":5340,"v":-10},{"t":5360,"v":-15},{"t":5380,"v":-5},{"t":5400,"v":-15},{"t":5420,"v":-10},{"t":5440,"v":-15},{"t":5460,"v":-10},{"t":5480,"v":-15},{"t":5500,"v":-10},{"t":5520,"v":-15},{"t":5540,"v":-10},{"t":5560,"v":-15},{"t":5580,"v":-5},{"t":5600,"v":-15},{"t":5620,"v":-5},{"t":5640,"v":-15},{"t":5660,"v":-10},{"t":5680,"v":-15},{"t":5700,"v":-5},{"t":5720,"v":-15},{"t":5740,"v":-10},{"t":5760,"v":-15},{"t":5780,"v":-10},{"t":5800,"v":-15},{"t":5820,"v":-5},{"t":5840,"v":-15},{"t":5860,"v":-10},{"t":5880,"v":-15},{"t":5900,"v":-10},{"t":5920,"v":-15},{"t":5940,"v":-10},{"t":5960,"v":-15},{"t":5980,"v":-10},{"t":6000,"v":-15},{"t":6020,"v":-10},{"t":6040,"v":-15},{"t":6060,"v":-10},{"t":6080,"v":-15},{"t":6100,"v":-10},{"t":6120,"v":-15},{"t":6140,"v":-5},{"t":6160,"v":-15},{"t":6180,"v":-5},{"t":6200,"v":-15},{"t":6220,"v":-5},{"t":6240,"v":-15},{"t":6260,"v":-10},{"t":6280,"v":-15},{"t":6300,"v":-10},{"t":6320,"v":-15},{"t":6340,"v":-10},{"t":6360,"v":-15},{"t":6380,"v":-10},{"t":6400,"v":-15},{"t":6420,"v":-10},{"t":6440,"v":-15},{"t":6460,"v":-10},{"t":6480,"v":-15},{"t":6500,"v":-10},{"t":6520,"v":-15},{"t":6540,"v":-10},{"t":6560,"v":-15},{"t":6580,"v":-10},{"t":6600,"v":-15},{"t":6620,"v":-10},{"t":6640,"v":-15},{"t":6660,"v":-10},{"t":6680,"v":-15},{"t":6700,"v":-5},{"t":6720,"v":-15},{"t":6740,"v":-5},{"t":6760,"v":-15},{"t":6780,"v":-5},{"t":6800,"v":-15},{"t":6820,"v":-5},{"t":6840,"v":-15},{"t":6860,"v":-5},{"t":6880,"v":-15},{"t":6900,"v":-5},{"t":6920,"v":-15},{"t":6940,"v":-5},{"t":6960,"v":-15},{"t":6980,"v":-5},{"t":7000,"v":-15},{"t":7020,"v":-5},{"t":7040,"v":-15},
{"t":7065,"v":-5},{"t":7080,"v":-15},{"t":7095,"v":-10},{"t":7110,"v":-5},{"t":7150,"v":-15},{"t":7165,"v":-5},{"t":7200,"v":-15},{"t":7215,"v":-5},{"t":7235,"v":-15},{"t":7250,"v":-10},{"t":7265,"v":-15},{"t":7280,"v":-5},{"t":7300,"v":-15},{"t":7315,"v":-10},{"t":7330,"v":-15},{"t":7345,"v":-5},{"t":7360,"v":-15},{"t":7375,"v":-10},{"t":7390,"v":-15},{"t":7405,"v":-5},{"t":7420,"v":-15},{"t":7435,"v":-10},{"t":7450,"v":-15},{"t":7465,"v":-10},{"t":7480,"v":-15},{"t":7495,"v":-5},{"t":7510,"v":-15},{"t":7525,"v":-10},{"t":7540,"v":-15},{"t":7555,"v":-5},{"t":7570,"v":-15},{"t":7585,"v":-10},{"t":7600,"v":-15},{"t":7615,"v":-10},{"t":7630,"v":-15},{"t":7645,"v":-5},{"t":7660,"v":-15},{"t":7675,"v":-10},{"t":7690,"v":-15},{"t":7705,"v":-5},{"t":7720,"v":-15},{"t":7735,"v":-10},{"t":7750,"v":-15},{"t":7765,"v":-5},{"t":7780,"v":-15},{"t":7795,"v":-10},{"t":7810,"v":-15},{"t":7825,"v":-5},{"t":7840,"v":-15},{"t":7855,"v":-10},{"t":7870,"v":-15},{"t":7885,"v":-10},{"t":7900,"v":-15},{"t":7915,"v":-5},{"t":7930,"v":-15},{"t":7945,"v":-10},{"t":7960,"v":-5},{"t":8014,"v":-15},{"t":8025,"v":-5},{"t":8040,"v":-15},{"t":8054,"v":-5},{"t":8093,"v":-15},{"t":8100,"v":-5},{"t":8120,"v":-15},{"t":8130,"v":-5},{"t":8150,"v":-15},{"t":8160,"v":-5},{"t":8180,"v":-15},{"t":8190,"v":-5},{"t":8205,"v":-15},{"t":8211,"v":-5},{"t":8270,"v":-15},{"t":8290,"v":-5},{"t":8400,"v":-15},{"t":8410,"v":-5},{"t":8526,"v":-15},{"t":8536,"v":-5},{"t":8700,"v":-15},{"t":8710,"v":-5},{"t":8760,"v":-5}]
},
"encoding": {
"x": {"field": "t", "type": "quantitative", "scale": {"domain": [0, 8760], "nice": false, "zero": false}, "axis": {"values": [0,1000,2000,3000,4000,5000,6000,7000,8000,8760], "format": "d", "title": "Zeit in Stunden", "labelPadding": 23, "titleX": 370.5, "titleY": 58, "titleBaseline": "middle", "titleAlign": "center"}},
"y": {"field": "v", "type": "quantitative", "scale": {"domain": [-20, 180], "nice": false}, "axis": {"values": [-20,0,20,40,60,80,100,120,140,160,180], "format": "d", "title": "Temperatur Speicher [°C] & Füllstand [%]", "titleFontSize": 23, "labelPadding": 19, "titleX": -69, "titleY": 305, "titleAngle": -90, "titleBaseline": "middle", "titleAlign": "center"}}
},
"layer": [
{"data": {"name": "o"}, "mark": {"type": "line", "strokeWidth": 1, "clip": true}, "encoding": {"color": {"datum": "SP Oben", "scale": {"domain": ["SP Oben","SP 3/4","SP Mitte","SP 1/4","SP Unten","Füllstand","Speicher Betrieb (-5=aus, -10=entladen, -15=beladen)"], "range": ["#0072BD","#D95319","#EDB120","#7E2F8E","#77AC30","#FF0000","#FF00FF"]}, "legend": {"title": null, "orient": "none", "legendX": 80, "legendY": 18}}}},
{"data": {"name": "a"}, "mark": {"type": "line", "strokeWidth": 1, "clip": true}, "encoding": {"color": {"datum": "SP 3/4"}}},
{"data": {"name": "m"}, "mark": {"type": "line", "strokeWidth": 1, "clip": true}, "encoding": {"color": {"datum": "SP Mitte"}}},
{"data": {"name": "q"}, "mark": {"type": "line", "strokeWidth": 1, "clip": true}, "encoding": {"color": {"datum": "SP 1/4"}}},
{"data": {"name": "u"}, "mark": {"type": "line", "strokeWidth": 1.5, "clip": true}, "encoding": {"color": {"datum": "SP Unten"}}},
{"data": {"name": "f"}, "mark": {"type": "line", "strokeWidth": 1.5, "clip": true}, "encoding": {"color": {"datum": "Füllstand"}}},
{"data": {"name": "b"}, "mark": {"type": "line", "strokeWidth": 2, "clip": true, "interpolate": "step-after"}, "encoding": {"color": {"datum": "Speicher Betrieb (-5=aus, -10=entladen, -15=beladen)"}}}
],
"config": {
"view": {"stroke": "#262626", "strokeWidth": 1},
"axis": {"labelFont": "Liberation Sans", "titleFont": "Liberation Sans", "labelFontSize": 21, "titleFontSize": 24, "titleFontWeight": "normal", "labelColor": "#262626", "titleColor": "#262626", "domainColor": "#262626", "tickColor": "#262626", "tickSize": -7, "tickWidth": 1, "domainWidth": 1, "grid": true, "gridColor": "#dfdfdf", "gridWidth": 1, "labelFlush": false, "labelOverlap": false},
"legend": {"symbolType": "stroke", "symbolSize": 4225, "symbolStrokeWidth": 1.5, "labelFont": "Liberation Sans", "labelFontSize": 20.3, "labelColor": "#000000", "labelLimit": 0, "strokeColor": "#262626", "fillColor": "white", "padding": 5, "rowPadding": 0, "clipHeight": 27, "labelOffset": 8}
}
}
